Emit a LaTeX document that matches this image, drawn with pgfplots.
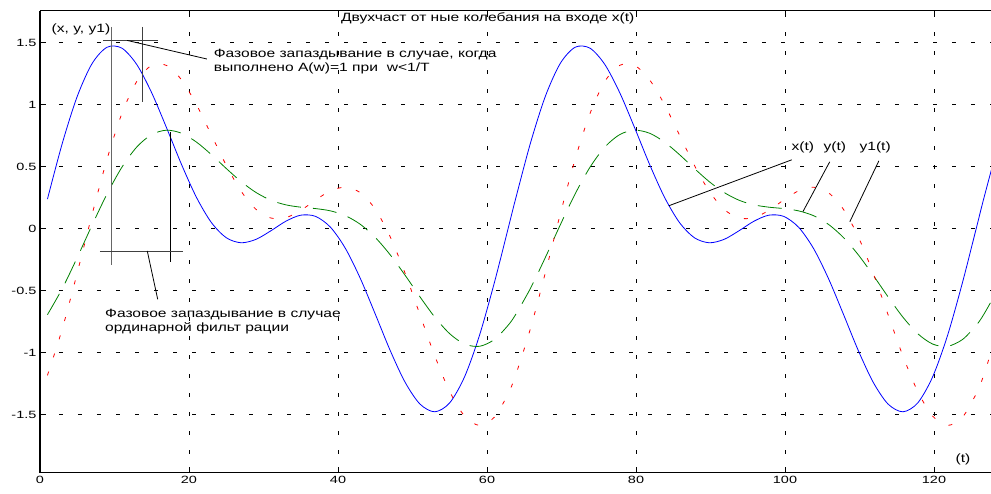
\documentclass[border=0pt]{standalone}
\usepackage{fontspec}
\setmainfont{Liberation Sans}[FakeStretch=1.3]
\newfontfamily\tickfont{Liberation Sans}[FakeStretch=1.38]
\usepackage{pgfplots}
\pgfplotsset{compat=1.18}
\usepackage{pgfplotstable}
\definecolor{mgreen}{RGB}{0,128,0}

\pgfplotstableread{
t x y y1
1 0.2389 -0.6942 -1.1844
3 0.6908 -0.4820 -0.8066
5 1.0685 -0.2326 -0.3564
7 1.3340 0.0301 0.1168
9 1.4650 0.2808 0.5615
11 1.4572 0.4968 0.9310
13 1.3244 0.6601 1.1901
15 1.0963 0.7603 1.3193
17 0.8128 0.7952 1.3176
19 0.5180 0.7706 1.2014
21 0.2531 0.6993 1.0015
23 0.0501 0.5983 0.7576
25 -0.0728 0.4861 0.5119
27 -0.1136 0.3798 0.3022
29 -0.0860 0.2921 0.1559
31 -0.0166 0.2297 0.0860
33 0.0603 0.1924 0.0893
35 0.1091 0.1737 0.1478
37 0.0993 0.1622 0.2318
39 0.0112 0.1438 0.3058
41 -0.1598 0.1049 0.3347
43 -0.4021 0.0352 0.2904
45 -0.6890 -0.0706 0.1573
47 -0.9826 -0.2104 -0.0646
49 -1.2390 -0.3753 -0.3588
51 -1.4157 -0.5499 -0.6938
53 -1.4782 -0.7146 -1.0282
55 -1.4055 -0.8483 -1.3158
57 -1.1942 -0.9316 -1.5138
59 -0.8594 -0.9495 -1.5884
61 -0.4329 -0.8943 -1.5208
62.83 0.0000 -0.7800 -1.3332
63.83 0.2389 -0.6942 -1.1844
65.83 0.6908 -0.4820 -0.8066
67.83 1.0685 -0.2326 -0.3564
69.83 1.3340 0.0301 0.1168
71.83 1.4650 0.2808 0.5615
73.83 1.4572 0.4968 0.9310
75.83 1.3244 0.6601 1.1901
77.83 1.0963 0.7603 1.3193
79.83 0.8128 0.7952 1.3176
81.83 0.5180 0.7706 1.2014
83.83 0.2531 0.6993 1.0015
85.83 0.0501 0.5983 0.7576
87.83 -0.0728 0.4861 0.5119
89.83 -0.1136 0.3798 0.3022
91.83 -0.0860 0.2921 0.1559
93.83 -0.0166 0.2297 0.0860
95.83 0.0603 0.1924 0.0893
97.83 0.1091 0.1737 0.1478
99.83 0.0993 0.1622 0.2318
101.83 0.0112 0.1438 0.3058
103.83 -0.1598 0.1049 0.3347
105.83 -0.4021 0.0352 0.2904
107.83 -0.6890 -0.0706 0.1573
109.83 -0.9826 -0.2104 -0.0646
111.83 -1.2390 -0.3753 -0.3588
113.83 -1.4157 -0.5499 -0.6938
115.83 -1.4782 -0.7146 -1.0282
117.83 -1.4055 -0.8483 -1.3158
119.83 -1.1942 -0.9316 -1.5138
121.83 -0.8594 -0.9495 -1.5884
123.83 -0.4329 -0.8943 -1.5208
125.66 0.0000 -0.7800 -1.3332
126.66 0.2389 -0.6942 -1.1844
128.66 0.6908 -0.4820 -0.8066
}\sig

\newcommand\lbl{\fontsize{12}{14}\selectfont}

\begin{document}
\begin{tikzpicture}
\begin{axis}[
  scale only axis, width=951pt, height=462pt,
  xmin=0, xmax=127.65, ymin=-1.97, ymax=1.76,
  axis x line*=box, axis y line*=left,
  axis line style={-, line width=1.5pt, black},
  xtick={0,20,40,60,80,100,120}, xticklabels={0,20,40,60,80,100,120},
  ytick={-1.5,-1,-0.5,0,0.5,1,1.5}, yticklabels={-1.5,-1,-0.5,0,0.5,1,1.5},
  tick align=inside, major tick length=6pt,
  tick style={black, line width=0.8pt},
  ticklabel style={font=\tickfont\fontsize{10.5}{12}\selectfont},
  grid=major,
  major grid style={black, line width=0.8pt, dash pattern=on 4pt off 15pt},
]
\coordinate (sw) at (rel axis cs:0,0);
\coordinate (ne) at (rel axis cs:1,1);
\addplot[blue, line width=0.8pt, smooth] table[x=t,y=x]{\sig};
\addplot[mgreen, line width=0.8pt, smooth, dash pattern=on 24pt off 12pt] table[x=t,y=y]{\sig};
\addplot[red, line width=0.8pt, smooth, dash pattern=on 4pt off 15pt] table[x=t,y=y1]{\sig};

% annotation lines
\draw[black!60, line width=1pt] (axis cs:9.66,1.63) -- (axis cs:9.66,-0.29);
\draw[black!75, line width=0.8pt] (axis cs:13.8,1.63) -- (axis cs:13.8,1.02);
\draw[black!75, line width=0.8pt] (axis cs:8.5,1.52) -- (axis cs:15.8,1.52);
\draw[black, line width=0.8pt] (axis cs:11.7,1.52) -- (axis cs:22.4,1.37);
\draw[black, line width=0.8pt] (axis cs:17.45,0.78) -- (axis cs:17.45,-0.27);
\draw[black!75, line width=0.8pt] (axis cs:8.05,-0.18) -- (axis cs:19.2,-0.18);
\draw[black, line width=0.8pt] (axis cs:14.4,-0.18) -- (axis cs:15.8,-0.57);
\draw[black, line width=0.8pt] (axis cs:100.9,0.556) -- (axis cs:84.4,0.185);
\draw[black, line width=0.8pt] (axis cs:106.0,0.54) -- (axis cs:102.4,0.137);
\draw[black, line width=0.8pt] (axis cs:112.6,0.548) -- (axis cs:108.7,0.056);

% texts
\node[inner sep=0pt, font=\lbl] at (axis cs:60.1,1.70) {Двухчаст от ные колебания на входе x(t)};
\node[inner sep=0pt, font=\lbl] at (axis cs:5.5,1.61) {(x, y, y1)};
\node[inner sep=0pt, anchor=west, font=\lbl] at (axis cs:23.3,1.403) {Фазовое запаздывание в случае, когда};
\node[inner sep=0pt, anchor=west, font=\lbl] at (axis cs:23.3,1.298) {выполнено A(w)=1 при\ \ w<1/T};
\node[inner sep=0pt, anchor=west, font=\lbl] at (axis cs:8.72,-0.694) {Фазовое запаздывание в случае};
\node[inner sep=0pt, anchor=west, font=\lbl] at (axis cs:8.72,-0.806) {ординарной фильт рации};
\node[inner sep=0pt, font=\lbl] at (axis cs:102.4,0.653) {x(t)};
\node[inner sep=0pt, font=\lbl] at (axis cs:106.7,0.653) {y(t)};
\node[inner sep=0pt, font=\lbl] at (axis cs:112.1,0.653) {y1(t)};
\node[inner sep=0pt, font=\lbl] at (axis cs:123.9,-1.863) {(t)};
\end{axis}
\pgfresetboundingbox
\path[use as bounding box] ([xshift=-40pt,yshift=-20.3pt]sw) rectangle ([yshift=10.7pt]ne);
\end{tikzpicture}
\end{document}
